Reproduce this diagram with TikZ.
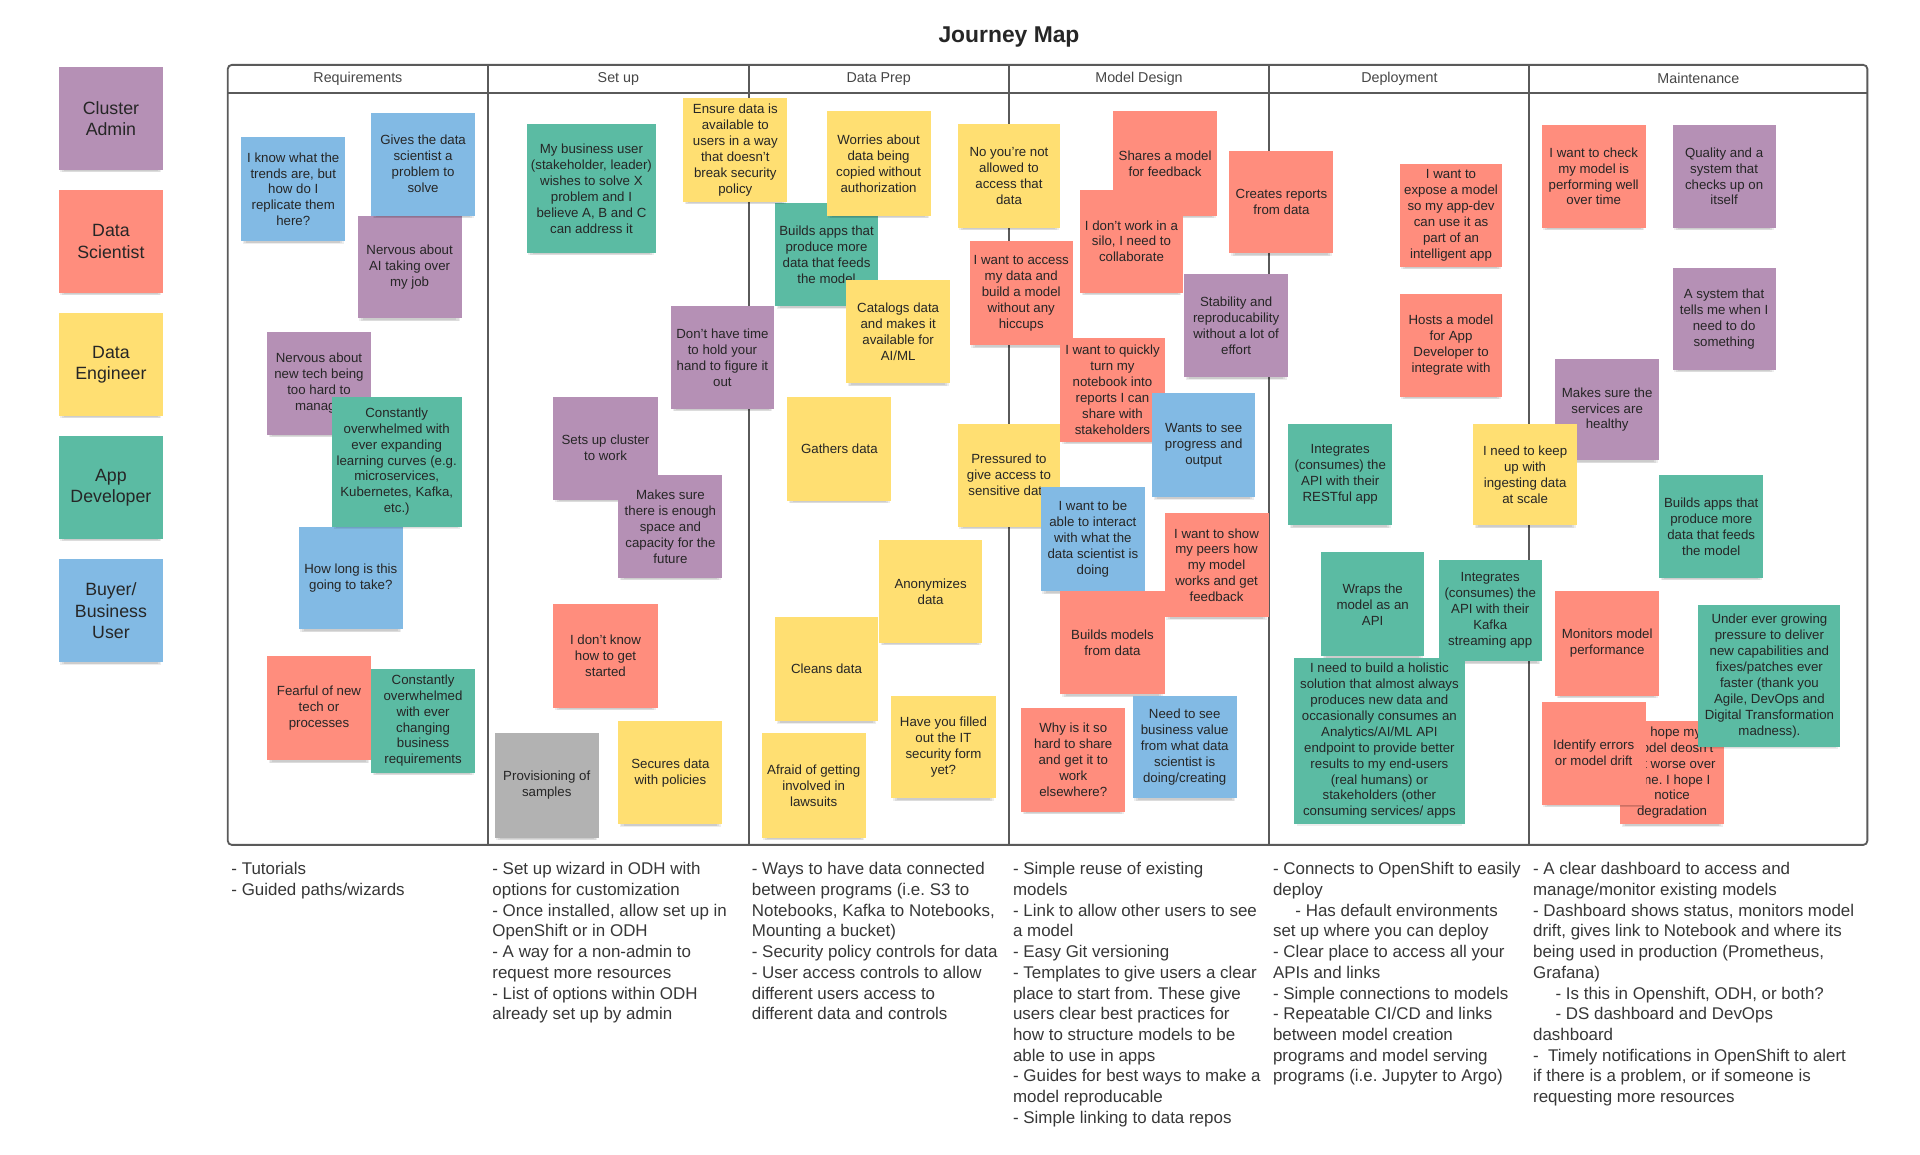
\documentclass[tikz,border=0pt]{standalone}
\usepackage{fontspec}
\setmainfont{Liberation Sans}
\usetikzlibrary{shadows}
\frenchspacing
\definecolor{cpurple}{RGB}{181,144,181}
\definecolor{csalmon}{RGB}{255,141,125}
\definecolor{cyellow}{RGB}{255,223,114}
\definecolor{cteal}{RGB}{91,187,163}
\definecolor{cblue}{RGB}{130,186,228}
\definecolor{cgray}{RGB}{178,178,178}
\definecolor{inktext}{RGB}{38,38,38}
\definecolor{boardline}{RGB}{90,90,90}
\definecolor{hdrtext}{RGB}{70,70,70}
\definecolor{bottomtext}{RGB}{55,55,55}
\newcommand\postit[7]{\node[note,fill=#2,minimum width={(#5-#3)*0.6pt},minimum height={(#6-#4)*0.6pt}] (#1) at ({(#3+#5)/2},{(#4+#6)/2}) {#7};}
\begin{document}
\begin{tikzpicture}[x=0.6pt,y=-0.6pt,
 softshadow/.style={
   drop shadow={shadow xshift=0pt,shadow yshift=-3.6pt,shadow scale=0.9,opacity=0.07,fill=black},
   drop shadow={shadow xshift=0pt,shadow yshift=-2.8pt,shadow scale=0.94,opacity=0.07,fill=black},
   drop shadow={shadow xshift=0pt,shadow yshift=-2pt,shadow scale=0.97,opacity=0.07,fill=black}},
 note/.style={rectangle,inner sep=0.5pt,align=center,text=inktext,font=\fontsize{6.5}{7.8}\selectfont,softshadow},
 legendnote/.style={note,font=\fontsize{8.7}{10.3}\selectfont,minimum width=51pt,minimum height=50.4pt},
 board/.style={draw=boardline,line width=0.9pt},
 hdr/.style={font=\fontsize{7}{8}\selectfont,text=hdrtext,inner sep=0pt},
 ideas/.style={anchor=north west,align=left,inner sep=0pt,font=\fontsize{8.3}{10.15}\selectfont,text=bottomtext}]
\useasboundingbox[fill=white] (0,0) rectangle (1568,943);

% title
\node[font=\bfseries\fontsize{11.2}{13}\selectfont,text=inktext] (title) at (824,30.5) {Journey Map};

% legend
\node[legendnote,fill=cpurple] (l1) at (90.6,96.8) {Cluster\\Admin};
\node[legendnote,fill=csalmon] (l2) at (90.6,197.2) {Data\\Scientist};
\node[legendnote,fill=cyellow] (l3) at (90.6,297.7) {Data\\Engineer};
\node[legendnote,fill=cteal] (l4) at (90.6,398.2) {App\\Developer};
\node[legendnote,fill=cblue] (l5) at (90.6,498.7) {Buyer/\\Business\\User};

% board
\draw[board,rounded corners=2pt] (186,53) rectangle (1525,690);
\draw[board] (186,75.7) -- (1525,75.7);
\foreach \xx in {398.6,611.4,823.7,1036.6,1249} \draw[board] (\xx,53) -- (\xx,690);
\node[hdr] (h1) at (292.3,64.3) {Requirements};
\node[hdr] (h2) at (505,64.3) {Set up};
\node[hdr] (h3) at (717.6,64.3) {Data Prep};
\node[hdr] (h4) at (930.2,64.3) {Model Design};
\node[hdr] (h5) at (1142.8,64.3) {Deployment};
\node[hdr] (h6) at (1387,64.3) {Maintenance};

% Requirements
\postit{n3}{cpurple}{292}{176}{377}{260}{Nervous about\\AI taking over\\my job}
\postit{n1}{cblue}{197}{112}{282}{197}{I know what the\\trends are, but\\how do I\\replicate them\\here?}
\postit{n2}{cblue}{303}{92}{388}{176}{Gives the data\\scientist a\\problem to\\solve}
\postit{n4}{cpurple}{218}{271}{303}{355}{Nervous about\\new tech being\\too hard to\\manage}
\postit{n6}{cblue}{244}{430}{329}{514}{How long is this\\going to take?}
\postit{n5}{cteal}{271}{324}{377}{430}{Constantly\\overwhelmed with\\ever expanding\\learning curves (e.g.\\microservices,\\Kubernetes, Kafka,\\etc.)}
\postit{n7}{csalmon}{218}{536}{303}{621}{Fearful of new\\tech or\\processes}
\postit{n8}{cteal}{303}{546}{388}{631}{Constantly\\overwhelmed\\with ever\\changing\\business\\requirements}

% Set up
\postit{n9}{cteal}{430}{101}{536}{207}{My business user\\(stakeholder, leader)\\wishes to solve X\\problem and I\\believe A, B and C\\can address it}
\postit{n14}{csalmon}{452}{493}{537}{578}{I don't know\\how to get\\started}
\postit{n15}{cgray}{404}{599}{489}{684}{Provisioning of\\samples}
\postit{n16}{cyellow}{505}{589}{590}{673}{Secures data\\with policies}
\postit{n12}{cpurple}{452}{324}{537}{408}{Sets up cluster\\to work}
\postit{n13}{cpurple}{505}{388}{590}{472}{Makes sure\\there is enough\\space and\\capacity for the\\future}
\postit{n11}{cpurple}{548}{250}{632}{334}{Don't have time\\to hold your\\hand to figure it\\out}

% Data Prep
\postit{n18}{cteal}{633}{166}{717}{250}{Builds apps that\\produce more\\data that feeds\\the model}
\postit{n10}{cyellow}{558}{80}{643}{165}{Ensure data is\\available to\\users in a way\\that doesn't\\break security\\policy}
\postit{n17}{cyellow}{675}{91}{760}{176}{Worries about\\data being\\copied without\\authorization}
\postit{n19}{cyellow}{691}{229}{776}{313}{Catalogs data\\and makes it\\available for\\AI/ML}
\postit{n20}{cyellow}{643}{324}{728}{409}{Gathers data}
\postit{n21}{cyellow}{782}{101}{866}{186}{No you're not\\allowed to\\access that\\data}
\postit{n22}{csalmon}{792}{197}{876}{282}{I want to access\\my data and\\build a model\\without any\\hiccups}
\postit{n24}{cyellow}{718}{441}{802}{525}{Anonymizes\\data}
\postit{n25}{cyellow}{633}{504}{717}{589}{Cleans data}
\postit{n26}{cyellow}{728}{568}{813}{652}{Have you filled\\out the IT\\security form\\yet?}
\postit{n27}{cyellow}{622}{599}{707}{684}{Afraid of getting\\involved in\\lawsuits}
\postit{n23}{cyellow}{782}{346}{866}{430}{Pressured to\\give access to\\sensitive data}

% Model Design
\postit{n28}{csalmon}{909}{91}{994}{176}{Shares a model\\for feedback}
\postit{n29}{csalmon}{882}{155}{966}{239}{I don't work in a\\silo, I need to\\collaborate}
\postit{n30}{csalmon}{1004}{123}{1089}{207}{Creates reports\\from data}
\postit{n31}{cpurple}{967}{224}{1052}{308}{Stability and\\reproducability\\without a lot of\\effort}
\postit{n32}{csalmon}{866}{276}{951}{361}{I want to quickly\\turn my\\notebook into\\reports I can\\share with\\stakeholders}
\postit{n33}{cblue}{941}{321}{1025}{406}{Wants to see\\progress and\\output}
\postit{n34}{cblue}{850}{398}{935}{483}{I want to be\\able to interact\\with what the\\data scientist is\\doing}
\postit{n36}{csalmon}{866}{483}{951}{567}{Builds models\\from data}
\postit{n35}{csalmon}{951}{419}{1036}{504}{I want to show\\my peers how\\my model\\works and get\\feedback}
\postit{n37}{csalmon}{834}{578}{919}{663}{Why is it so\\hard to share\\and get it to\\work\\elsewhere?}
\postit{n38}{cblue}{925}{568}{1010}{652}{Need to see\\business value\\from what data\\scientist is\\doing/creating}

% Deployment
\postit{n39}{cteal}{1052}{346}{1137}{429}{Integrates\\(consumes) the\\API with their\\RESTful app}
\postit{n40}{csalmon}{1143}{134}{1227}{218}{I want to\\expose a model\\so my app-dev\\can use it as\\part of an\\intelligent app}
\postit{n41}{csalmon}{1143}{240}{1227}{324}{Hosts a model\\for App\\Developer to\\integrate with}
\postit{n43}{cteal}{1079}{451}{1163}{536}{Wraps the\\model as an\\API}
\postit{n44}{cteal}{1175}{457}{1259}{540}{Integrates\\(consumes) the\\API with their\\Kafka\\streaming app}
\postit{n45}{cteal}{1057}{537}{1196}{673}{I need to build a holistic\\solution that almost always\\produces new data and\\occasionally consumes an\\Analytics/AI/ML API\\endpoint to provide better\\results to my end-users\\(real humans) or\\stakeholders (other\\consuming services/ apps}

% Maintenance
\postit{n46}{csalmon}{1259}{102}{1344}{186}{I want to check\\my model is\\performing well\\over time}
\postit{n47}{cpurple}{1366}{102}{1450}{186}{Quality and a\\system that\\checks up on\\itself}
\postit{n48}{cpurple}{1366}{219}{1450}{302}{A system that\\tells me when I\\need to do\\something}
\postit{n49}{cpurple}{1270}{293}{1355}{376}{Makes sure the\\services are\\healthy}
\postit{n42}{cyellow}{1203}{346}{1288}{429}{I need to keep\\up with\\ingesting data\\at scale}
\postit{n50}{cteal}{1355}{388}{1440}{472}{Builds apps that\\produce more\\data that feeds\\the model}
\postit{n51}{csalmon}{1270}{483}{1355}{568}{Monitors model\\performance}
\postit{n53}{csalmon}{1323}{589}{1408}{673}{I hope my\\model deosn't\\get worse over\\time. I hope I\\notice\\degradation}
\postit{n54}{csalmon}{1259}{573}{1344}{657}{Identify errors\\or model drift}
\postit{n52}{cteal}{1387}{494}{1503}{610}{Under ever growing\\pressure to deliver\\new capabilities and\\fixes/patches ever\\faster (thank you\\Agile, DevOps and\\Digital Transformation\\madness).}

% ideas below the board
\node[ideas] (b1) at (188.7,704) {- Tutorials\\- Guided paths/wizards};
\node[ideas] (b2) at (401.8,704) {- Set up wizard in ODH with\\options for customization\\- Once installed, allow set up in\\OpenShift or in ODH\\- A way for a non-admin to\\request more resources\\- List of options within ODH\\already set up by admin};
\node[ideas] (b3) at (613.7,704) {- Ways to have data connected\\between programs (i.e. S3 to\\Notebooks, Kafka to Notebooks,\\Mounting a bucket)\\- Security policy controls for data\\- User access controls to allow\\different users access to\\different data and controls};
\node[ideas] (b4) at (827,704) {- Simple reuse of existing\\models\\- Link to allow other users to see\\a model\\- Easy Git versioning\\- Templates to give users a clear\\place to start from. These give\\users clear best practices for\\how to structure models to be\\able to use in apps\\- Guides for best ways to make a\\model reproducable\\- Simple linking to data repos};
\node[ideas] (b5) at (1039.3,704) {- Connects to OpenShift to easily\\deploy\\\hspace*{11pt}- Has default environments\\set up where you can deploy\\- Clear place to access all your\\APIs and links\\- Simple connections to models\\- Repeatable CI/CD and links\\between model creation\\programs and model serving\\programs (i.e. Jupyter to Argo)};
\node[ideas] (b6) at (1251.7,704) {- A clear dashboard to access and\\manage/monitor existing models\\- Dashboard shows status, monitors model\\drift, gives link to Notebook and where its\\being used in production (Prometheus,\\Grafana)\\\hspace*{11pt}- Is this in Openshift, ODH, or both?\\\hspace*{11pt}- DS dashboard and DevOps\\dashboard\\-\ \ Timely notifications in OpenShift to alert\\if there is a problem, or if someone is\\requesting more resources};
\end{tikzpicture}
\end{document}
